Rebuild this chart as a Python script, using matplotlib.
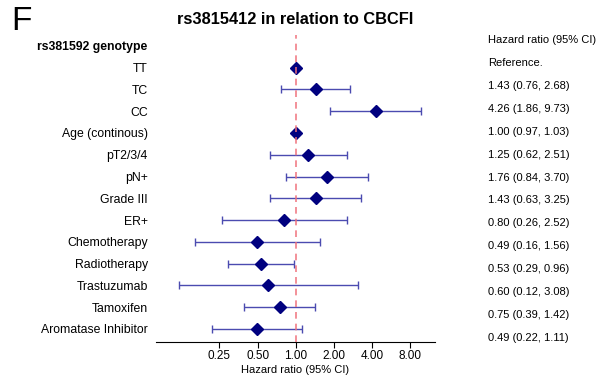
import matplotlib
matplotlib.use("Agg")
import matplotlib.pyplot as plt
import numpy as np

plt.rcParams['font.family'] = ['Liberation Sans', 'DejaVu Sans']

# data
header = "rs381592 genotype"
labels = ["TT", "TC", "CC", "Age (continous)", "pT2/3/4", "pN+", "Grade III",
          "ER+", "Chemotherapy", "Radiotherapy", "Trastuzumab", "Tamoxifen",
          "Aromatase Inhibitor"]
hr = [1.00, 1.43, 4.26, 1.00, 1.25, 1.76, 1.43, 0.80, 0.49, 0.53, 0.60, 0.75, 0.49]
lo = [1.00, 0.76, 1.86, 0.97, 0.62, 0.84, 0.63, 0.26, 0.16, 0.29, 0.12, 0.39, 0.22]
hi = [1.00, 2.68, 9.73, 1.03, 2.51, 3.70, 3.25, 2.52, 1.56, 0.96, 3.08, 1.42, 1.11]
ci_text = ["Reference.", "1.43 (0.76, 2.68)", "4.26 (1.86, 9.73)", "1.00 (0.97, 1.03)",
           "1.25 (0.62, 2.51)", "1.76 (0.84, 3.70)", "1.43 (0.63, 3.25)",
           "0.80 (0.26, 2.52)", "0.49 (0.16, 1.56)", "0.53 (0.29, 0.96)",
           "0.60 (0.12, 3.08)", "0.75 (0.39, 1.42)", "0.49 (0.22, 1.11)"]
xticks = [0.25, 0.5, 1, 2, 4, 8]
xtick_labels = ["0.25", "0.50", "1.00", "2.00", "4.00", "8.00"]

W, H = 602, 377
fig = plt.figure(figsize=(W / 100, H / 100), dpi=100)

top_px, bot_px = 35, 342
ax = fig.add_axes([156 / W, 1 - bot_px / H, (435 - 156) / W, (bot_px - top_px) / H])

rows = np.arange(1, len(labels) + 1)
hr = np.array(hr)
lo = np.array(lo)
hi = np.array(hi)
has_ci = hi > lo
line_col = '#4b4bb0'
ax.errorbar(hr[has_ci], rows[has_ci],
            xerr=[hr[has_ci] - lo[has_ci], hi[has_ci] - hr[has_ci]],
            fmt='none', ecolor=line_col, elinewidth=1.0, capsize=3, capthick=1.0, zorder=2)
ax.plot(hr, rows, 'D', color='#00007f', markersize=5.8, zorder=3)
ax.axvline(1, color='#f0707a', linestyle=(0, (4, 3)), linewidth=1.2, zorder=4, alpha=0.9)

ax.set_xscale('log')
ax.set_xlim(0.079, 12.5)
ax.set_ylim(13.6, -0.5)
ax.set_xticks(xticks)
ax.set_xticklabels(xtick_labels, fontsize=8.5)
ax.minorticks_off()
ax.set_yticks([0] + list(rows))
ax.set_yticklabels([header] + labels, fontsize=8.8)
ax.get_yticklabels()[0].set_fontweight('bold')
ax.tick_params(axis='y', length=0, pad=6)
ax.tick_params(axis='x', length=4, width=0.8, pad=2)
for s in ['top', 'right', 'left']:
    ax.spines[s].set_visible(False)
ax.spines['bottom'].set_linewidth(0.8)
ax.set_xlabel("Hazard ratio (95% CI)", fontsize=8, labelpad=2)
ax.set_title("rs3815412 in relation to CBCFI", fontsize=11.8, fontweight='bold', pad=8)

# right-hand column with HR (95% CI)
ax2 = fig.add_axes([488 / W, 1 - bot_px / H, 0.18, (bot_px - top_px) / H])
ax2.set_ylim((bot_px - 40) / 22.92, (top_px - 40) / 22.92)
ax2.set_xlim(0, 1)
ax2.axis('off')
ax2.text(0, 0, "Hazard ratio (95% CI)", fontsize=8, va='center', ha='left')
for i, t in enumerate(ci_text):
    ax2.text(0, i + 1, t, fontsize=8, va='center', ha='left')

fig.text(11 / W, 1 - 21 / H, "F", fontsize=24, va='center', ha='left')

fig.savefig("out.png", dpi=100)
